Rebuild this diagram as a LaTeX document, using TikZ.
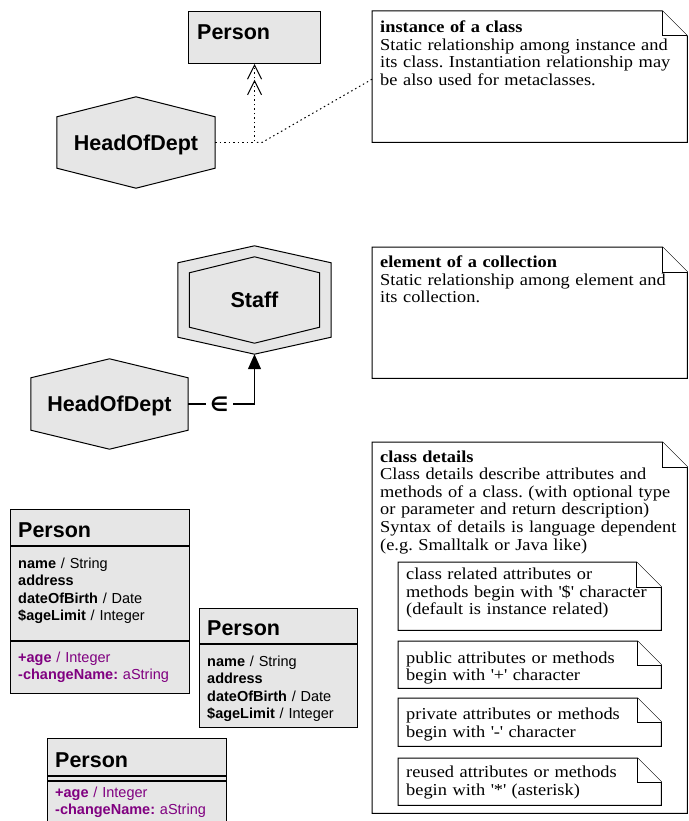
\documentclass[tikz,border=0pt]{standalone}
\usepackage{fontspec}
\newfontfamily\notefont[FakeStretch=1.1]{Liberation Serif}
\newfontfamily\classfont{Liberation Sans}
\newfontfamily\symfont{DejaVu Sans}
\usetikzlibrary{arrows.meta,backgrounds}
\definecolor{classgrey}{HTML}{E6E6E6}
\definecolor{opcolor}{HTML}{800080}
\frenchspacing

% note outline with a folded corner of size #2 around node #1
\newcommand\dogear[2]{%
  \draw[noteline] (#1.north west) -- ([xshift=-#2]#1.north east)
    -- ([yshift=-#2]#1.north east) -- (#1.south east) -- (#1.south west) -- cycle;
  \draw[noteline] ([xshift=-#2]#1.north east) |- ([yshift=-#2]#1.north east);}

% hexagon drawn behind node #1, corners dropping by #2
\newcommand\hexoutline[2]{%
  \begin{pgfonlayer}{background}
  \draw[hexline] (#1.north) -- ([yshift=-#2]#1.north east) -- ([yshift=#2]#1.south east)
    -- (#1.south) -- ([yshift=#2]#1.south west) -- ([yshift=-#2]#1.north west) -- cycle;
  \end{pgfonlayer}}

\begin{document}
\begin{tikzpicture}[x=1pt,y=-1pt,
  noteline/.style={draw=black,line width=1pt,fill=white,line join=miter},
  notebg/.style={draw=none,inner sep=0pt,anchor=north west},
  hexline/.style={draw=black,line width=1pt,fill=classgrey},
  hexbox/.style={draw=none,inner sep=0pt,text depth=0pt,
    font=\classfont\bfseries\fontsize{21.5}{24}\selectfont},
  classframe/.style={draw=black,line width=1.1pt,fill=classgrey,inner sep=0pt,anchor=north west},
  sepline/.style={draw=black,line width=1.1pt},
  titletext/.style={inner sep=0pt,anchor=base west,
    font=\classfont\bfseries\fontsize{21.5}{24}\selectfont},
  attrtext/.style={inner sep=0pt,anchor=base west,text width=170pt,align=left,
    font=\classfont\fontsize{14.5}{17.5}\selectfont},
  optext/.style={attrtext,text=opcolor},
  notetext/.style={inner sep=0pt,anchor=base west,text width=300pt,align=left,
    font=\notefont\fontsize{16.7}{17.6}\selectfont},
  dotline/.style={draw=black,line width=1pt,dash pattern=on 1.5pt off 3pt},
  solidline/.style={draw=black,line width=1.2pt},
  elem/.style={fill=white,inner sep=0pt,minimum width=27pt,minimum height=16pt,
    font=\symfont\bfseries\fontsize{20}{22}\selectfont}]

\useasboundingbox (0,0) rectangle (688,821);
\clip (0,0) rectangle (688,821);

% ---------- instance of a class ----------
\node[classframe,minimum width=132pt,minimum height=52pt] (p1) at (188,11) {};
\node[titletext] (p1t) at (197,40) {Person};

\node[hexbox,minimum width=158pt,minimum height=91pt] (h1) at (136,142.5) {HeadOfDept};
\hexoutline{h1}{20pt}

\draw[dotline,-{Straight Barb[length=14pt,width=14pt] Straight Barb[length=14pt,width=14pt]}]
  (h1.east) -| (p1.south);

\node[notebg,minimum width=315pt,minimum height=131pt] (n1) at (372,11) {};
\dogear{n1}{25pt}
\node[notetext] (n1t) at (380,32.5) {\textbf{instance of a class}\\
  Static relationship among instance and\\
  its class. Instantiation relationship may\\
  be also used for metaclasses.};

\coordinate (k1) at (262,142.5);
\coordinate (n1a) at ([yshift=-2.5pt]n1.west);
\draw[dotline] (n1a) -- (k1) -- (k1 -| p1.south);

% ---------- element of a collection ----------
\node[hexbox,minimum width=153pt,minimum height=108pt] (s1) at (254.5,300) {};
\hexoutline{s1}{17pt}
\node[hexbox,minimum width=130pt,minimum height=86pt] (s2) at (254.5,300) {Staff};
\hexoutline{s2}{16pt}

\node[hexbox,minimum width=157pt,minimum height=90pt] (h2) at (109.5,404) {HeadOfDept};
\hexoutline{h2}{19pt}

% membership connector with the element sign on it
\draw[solidline,-{Triangle[length=15pt,width=13pt]}]
  (h2.east) -| node[elem,pos=0.235] (in) {∈} (s1.south);

\node[notebg,minimum width=315pt,minimum height=131pt] (n2) at (372,247) {};
\dogear{n2}{25pt}
\node[notetext] (n2t) at (380,267.5) {\textbf{element of a collection}\\
  Static relationship among element and\\
  its collection.};

% ---------- class details ----------
\node[classframe,minimum width=179pt,minimum height=184pt] (ca) at (10,509) {};
\draw[sepline] ([yshift=-37pt]ca.north west) -- ([yshift=-37pt]ca.north east);
\draw[sepline] ([yshift=-132pt]ca.north west) -- ([yshift=-132pt]ca.north east);
\node[titletext] (cat) at (18,537) {Person};
\node[attrtext] (caa) at (18,568) {\textbf{name} / String\\ \textbf{address}\\
  \textbf{dateOfBirth} / Date\\ \textbf{\$ageLimit} / Integer};
\node[optext] (cam) at (18,662) {\textbf{+age} / Integer\\ \textbf{-changeName:} aString};

\node[classframe,minimum width=158pt,minimum height=119pt] (cb) at (199,608) {};
\draw[sepline] ([yshift=-36pt]cb.north west) -- ([yshift=-36pt]cb.north east);
\node[titletext] (cbt) at (207,635) {Person};
\node[attrtext] (cba) at (207,666) {\textbf{name} / String\\ \textbf{address}\\
  \textbf{dateOfBirth} / Date\\ \textbf{\$ageLimit} / Integer};

\node[classframe,minimum width=179pt,minimum height=95pt] (cc) at (47,738) {};
\draw[sepline] ([yshift=-38pt]cc.north west) -- ([yshift=-38pt]cc.north east);
\draw[sepline] ([yshift=-43pt]cc.north west) -- ([yshift=-43pt]cc.north east);
\node[titletext] (cct) at (55,767) {Person};
\node[optext] (ccm) at (55,797) {\textbf{+age} / Integer\\ \textbf{-changeName:} aString};

\node[notebg,minimum width=315pt,minimum height=371pt] (n3) at (372,442) {};
\dogear{n3}{25pt}
\node[notetext] (n3t) at (380,462) {\textbf{class details}\\
  Class details describe attributes and\\
  methods of a class. (with optional type\\
  or parameter and return description)\\
  Syntax of details is language dependent\\
  (e.g. Smalltalk or Java like)};

\node[notebg,minimum width=263pt,minimum height=68pt] (na) at (398,562) {};
\dogear{na}{25pt}
\node[notetext] (nat) at (406,579.5) {class related attributes or\\
  methods begin with \textquotesingle\$\textquotesingle\ character\\
  (default is instance related)};

\node[notebg,minimum width=263pt,minimum height=47pt] (nb) at (398,641) {};
\dogear{nb}{24pt}
\node[notetext] (nbt) at (406,663) {public attributes or methods\\
  begin with \textquotesingle+\textquotesingle\ character};

\node[notebg,minimum width=263pt,minimum height=48pt] (nc) at (398,698) {};
\dogear{nc}{24pt}
\node[notetext] (nct) at (406,719.5) {private attributes or methods\\
  begin with \textquotesingle-\textquotesingle\ character};

\node[notebg,minimum width=263pt,minimum height=47pt] (nd) at (398,758) {};
\dogear{nd}{24pt}
\node[notetext] (ndt) at (406,777.5) {reused attributes or methods\\
  begin with \textquotesingle*\textquotesingle\ (asterisk)};

\end{tikzpicture}
\end{document}
